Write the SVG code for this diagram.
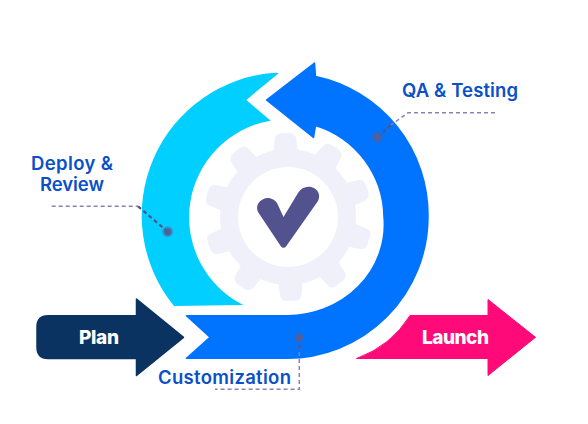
<svg xmlns="http://www.w3.org/2000/svg" width="588" height="424" viewBox="0 0 588 424">
<style>
.lbl{font-family:"Inter","Liberation Sans",sans-serif;font-size:18.5px;font-weight:600;fill:#0a50c8}
.btn{font-family:"Inter","Liberation Sans",sans-serif;font-size:19px;font-weight:800;fill:#fff}
.lead{fill:none;stroke:#8582b6;stroke-width:1.5;stroke-dasharray:4 3}
.leadin{fill:none;stroke:#52528f;stroke-width:2.2;stroke-dasharray:4 3}
.dot{fill:#52609a}
.halo{fill:#52609a;opacity:.45}
.tooth{fill:#f0f0fa}
</style>
<defs>
<path id="t" class="tooth" d="M-13,-55 L-11,-77 Q-10.500,-84 -4,-84 H4 Q10.500,-84 11,-77 L13,-55 Z"/>
</defs>
<rect width="588" height="424" fill="#fff"/>
<g id="gear">
<g transform="translate(288 217)">
<use href="#t" transform="rotate(-2)"/>
<use href="#t" transform="rotate(34)"/>
<use href="#t" transform="rotate(70)"/>
<use href="#t" transform="rotate(106)"/>
<use href="#t" transform="rotate(142)"/>
<use href="#t" transform="rotate(178)"/>
<use href="#t" transform="rotate(214)"/>
<use href="#t" transform="rotate(250)"/>
<use href="#t" transform="rotate(286)"/>
<use href="#t" transform="rotate(322)"/>
<circle r="68" fill="#f0f0fa"/>
<circle r="50" fill="#fff"/>
</g>
<path fill="#52528f" d="M258,212 C255,205 260,199 267,198 C271,197.500 275,200 277,203 L283.500,217 L298,193 C301,188 306,186 311,187 C318,188.500 321,195 318,201 L286,246.500 Q283.500,249 281,246.500 Z"/>
</g>
<g id="deploy-review">
<path fill="#00cfff" d="M278,73.700 Q279,72.500 275,72.800 A143,143 0 0 0 174,306 L243.300,305 A98,98 0 0 1 270.700,120.700 L246.300,100 Z"/>
<text class="lbl" x="31" y="170" textLength="82">Deploy &amp;</text>
<text class="lbl" x="40" y="191" textLength="64">Review</text>
</g>
<g id="qa-testing">
<path fill="#0073ff" stroke="#0073ff" stroke-width="1.500" stroke-linejoin="round" d="M314.500,63 L266.500,100 L313.500,137.500 L315.500,125.500 A97,97 0 0 1 384,217 A97,91 0 0 1 287,315.700 L186.500,315.700 L210,337.300 L186.500,358.300 L287,358.300 A141.500,141.500 0 0 0 428,217 A141.500,141.500 0 0 0 315.500,76.500 Z"/>
<text class="lbl" x="402" y="97" textLength="116">QA &amp; Testing</text>
</g>
<g id="customization">
<text class="lbl" x="158" y="384" textLength="133">Customization</text>
</g>
<g id="plan">
<path fill="#0b3361" stroke="#0b3361" stroke-width="1.500" stroke-linejoin="round" d="M48,315.800 H136.500 V299 L183.500,337.300 L136.500,375.500 V358.500 H48 Q37,358.500 37,347 V327 Q37,315.800 48,315.800 Z"/>
<text class="btn" x="79" y="344" textLength="40">Plan</text>
</g>
<g id="launch">
<path fill="#ff0a78" stroke="#ff0a78" stroke-width="1" stroke-linejoin="round" d="M356.500,358.500 Q391,346 410,315.500 H488 V299.500 L535.500,337.300 L488,375.500 V358.500 Z"/>
<text class="btn" x="422" y="344" textLength="67">Launch</text>
</g>
<g id="connectors">
<path class="lead" d="M495,112.700 H408 L391,125"/>
<path class="lead" d="M51.700,206.300 H138"/>
<path class="lead" d="M299.300,345 V389.300 H215" stroke="#7f8bb0"/>
<path class="leadin" d="M391,125 L377.300,137.300"/>
<path class="leadin" d="M138,206.300 L167.700,231.700"/>
<path class="leadin" d="M299.300,337.700 V352"/>
<circle class="halo" cx="377.300" cy="137.300" r="5.500"/>
<circle class="dot" cx="377.300" cy="137.300" r="3.500"/>
<circle class="halo" cx="167.700" cy="231.700" r="5.500"/>
<circle class="dot" cx="167.700" cy="231.700" r="3.500"/>
<circle class="halo" cx="299.300" cy="337.700" r="5"/>
<circle class="dot" cx="299.300" cy="337.700" r="3.500"/>
</g>
</svg>
